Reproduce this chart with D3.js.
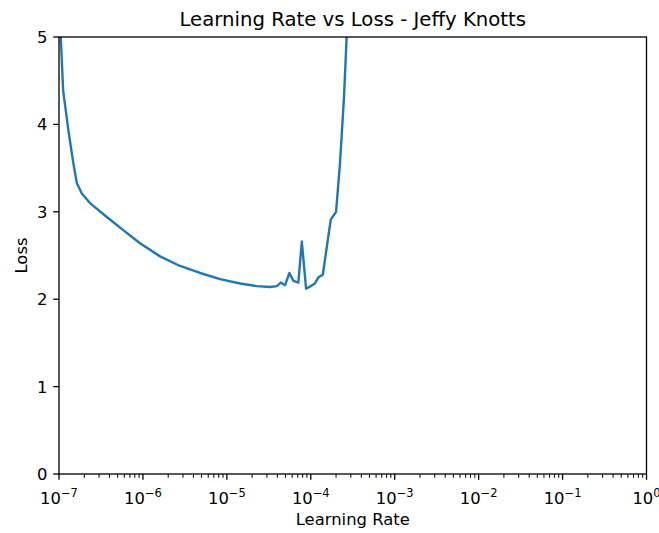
<!DOCTYPE html>
<html>
<head>
<meta charset="utf-8">
<script src="https://cdn.jsdelivr.net/npm/d3@7"></script>
<style>
    body { margin: 0; background: #fff; }
    text { font-family: "DejaVu Sans", sans-serif; fill: #000; }
</style>
</head>
<body>
<svg id="chart" width="659" height="533"></svg>
<script>
// learning rates
var learningRates = [1.0e-7, 1.12e-7, 1.29e-7, 1.48e-7, 1.63e-7, 1.87e-7, 2.34e-7, 3.71e-7,
    5.83e-7, 9.23e-7, 1.60e-6, 2.77e-6, 4.80e-6, 8.30e-6, 1.44e-5, 2.27e-5, 3.27e-5,
    3.94e-5, 4.39e-5, 4.94e-5, 5.56e-5, 6.21e-5, 7.11e-5, 7.82e-5, 8.79e-5, 1.0e-4,
    1.12e-4, 1.23e-4, 1.39e-4, 1.73e-4, 2.00e-4, 2.23e-4, 2.49e-4, 2.79e-4];
var losses = [5.45, 4.39, 3.94, 3.56, 3.33, 3.21, 3.10, 2.94,
    2.79, 2.64, 2.49, 2.38, 2.30, 2.23, 2.18, 2.15, 2.14,
    2.15, 2.19, 2.16, 2.30, 2.21, 2.19, 2.66, 2.12, 2.15,
    2.18, 2.25, 2.28, 2.91, 3.00, 3.56, 4.32, 5.40];
var xTickExps = [-7, -6, -5, -4, -3, -2, -1, 0];
var yTicks = [0, 1, 2, 3, 4, 5];

var svg = d3.select("#chart");
// plot box (window.top is taken, so prefixed names)
var plotLeft = 59, plotRight = 646.5, plotTop = 37, plotBottom = 474;

var x = d3.scaleLog().domain([1e-7, 1]).range([plotLeft, plotRight]);
var y = d3.scaleLinear().domain([0, 5]).range([plotBottom, plotTop]);

svg.append("defs").append("clipPath").attr("id", "plotclip")
    .append("rect")
    .attr("x", plotLeft).attr("y", plotTop)
    .attr("width", plotRight - plotLeft).attr("height", plotBottom - plotTop);

// minor ticks 2..9 in each decade
var minor = [];
xTickExps.slice(0, -1).forEach(function(e) {
    for (var m = 2; m < 10; m++) minor.push(m * Math.pow(10, e));
});

var xAxis = svg.append("g")
    .attr("transform", "translate(0," + plotBottom + ")");
xAxis.selectAll("line.minor")
    .data(minor)
    .enter().append("line")
    .attr("x1", function(d) { return x(d); })
    .attr("x2", function(d) { return x(d); })
    .attr("y1", 0).attr("y2", 3.8)
    .attr("stroke", "#000").attr("stroke-width", 1);

var xMajor = xAxis.selectAll("g.tick")
    .data(xTickExps)
    .enter().append("g")
    .attr("transform", function(d) { return "translate(" + x(Math.pow(10, d)) + ",0)"; });
xMajor.append("line")
    .attr("y1", 0).attr("y2", 5.8)
    .attr("stroke", "#000").attr("stroke-width", 1.3);
var xLabel = xMajor.append("text")
    .attr("y", 29.5)
    .attr("text-anchor", "middle")
    .style("font-size", "16.4px");
xLabel.append("tspan").text("10");
xLabel.append("tspan")
    .attr("dy", -7)
    .style("font-size", "11.5px")
    .text(function(d) { return d == 0 ? "0" : "\u2212" + Math.abs(d); });

var yAxis = svg.append("g")
    .attr("transform", "translate(" + plotLeft + ",0)");
var yMajor = yAxis.selectAll("g.tick")
    .data(yTicks)
    .enter().append("g")
    .attr("transform", function(d) { return "translate(0," + y(d) + ")"; });
yMajor.append("line")
    .attr("x1", 0).attr("x2", -5.8)
    .attr("stroke", "#000").attr("stroke-width", 1.3);
yMajor.append("text")
    .attr("x", -11.5)
    .attr("dy", "0.36em")
    .attr("text-anchor", "end")
    .style("font-size", "16.4px")
    .text(function(d) { return d; });

var line = d3.line()
    .x(function(d, i) { return x(learningRates[i]); })
    .y(function(d) { return y(d); });

svg.append("path")
    .datum(losses)
    .attr("clip-path", "url(#plotclip)")
    .attr("fill", "none")
    .attr("stroke", "#1f77b4")
    .attr("stroke-width", 2.4)
    .attr("stroke-linejoin", "round")
    .attr("stroke-linecap", "square")
    .attr("d", line);

svg.append("rect")
    .attr("x", plotLeft).attr("y", plotTop)
    .attr("width", plotRight - plotLeft).attr("height", plotBottom - plotTop)
    .attr("fill", "none")
    .attr("stroke", "#000")
    .attr("stroke-width", 1.3);

svg.append("text")
    .attr("x", (plotLeft + plotRight) / 2)
    .attr("y", 26)
    .attr("text-anchor", "middle")
    .style("font-size", "19.7px")
    .text("Learning Rate vs Loss - Jeffy Knotts");

svg.append("text")
    .attr("x", (plotLeft + plotRight) / 2)
    .attr("y", 525)
    .attr("text-anchor", "middle")
    .style("font-size", "16.4px")
    .text("Learning Rate");

svg.append("text")
    .attr("transform", "translate(27," + (plotTop + plotBottom) / 2 + ") rotate(-90)")
    .attr("text-anchor", "middle")
    .style("font-size", "16.4px")
    .text("Loss");
</script>
</body>
</html>
